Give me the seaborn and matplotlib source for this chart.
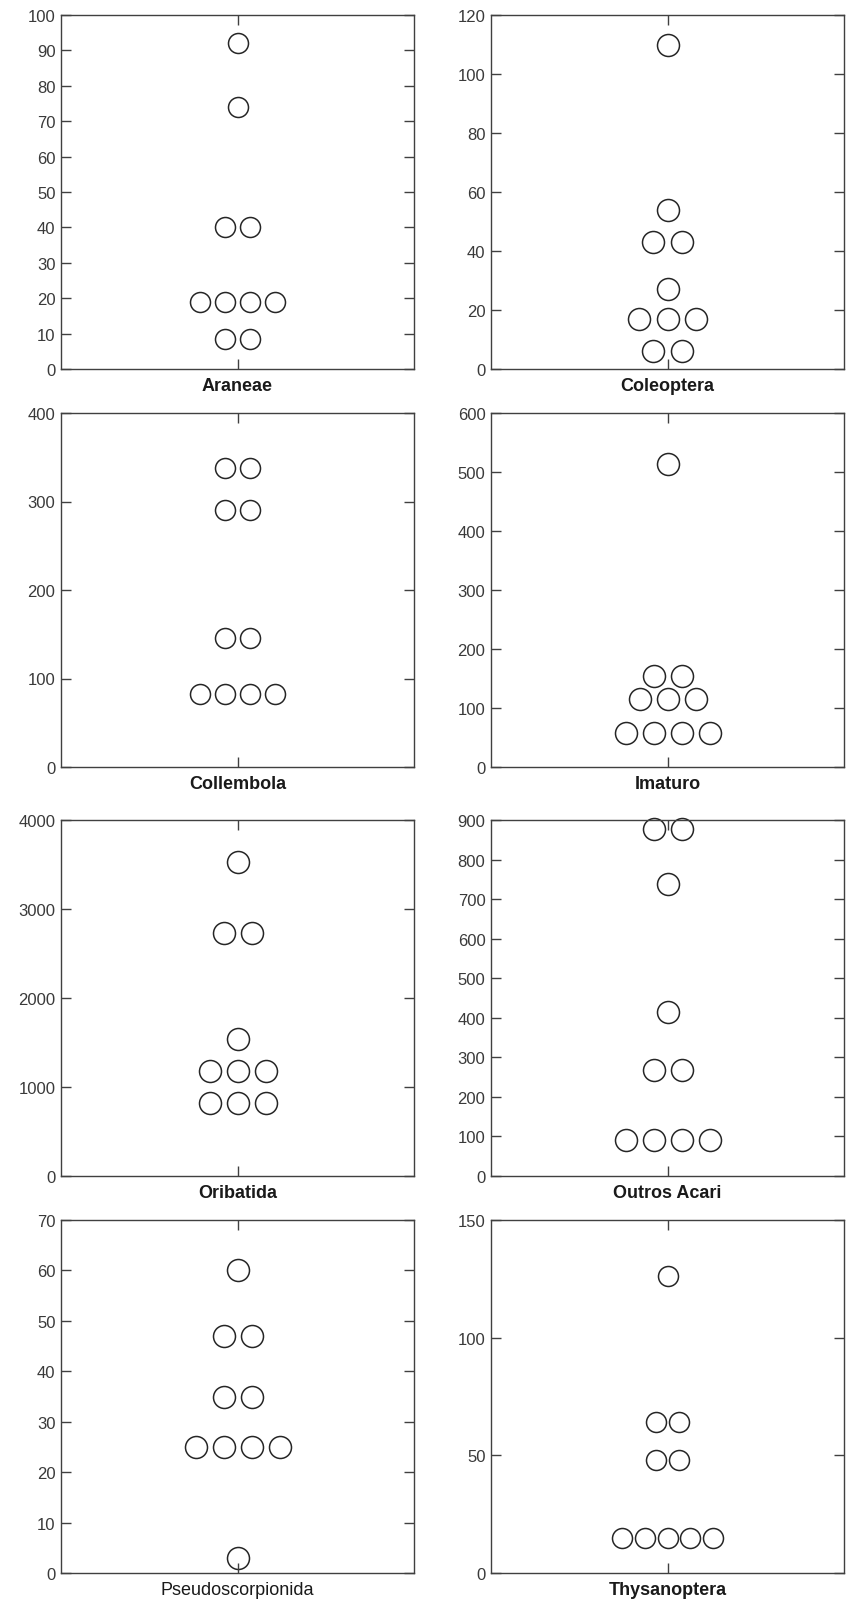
import numpy as np
import pandas as pd
import matplotlib
matplotlib.use("Agg")
import matplotlib.pyplot as plt
import seaborn as sns

sns.set_theme(style="ticks")
plt.rcParams["font.family"] = ["Liberation Sans", "DejaVu Sans"]

# Data (one entry per circle)
taxa = ["Araneae", "Coleoptera", "Collembola", "Imaturo",
        "Oribatida", "Outros Acari", "Pseudoscorpionida", "Thysanoptera"]

araneae = [92, 74, 40, 40, 19, 19, 19, 19, 8.5, 8.5]
coleoptera = [110, 54, 43, 43, 27, 17, 17, 17, 6, 6]
collembola = [338, 338, 290, 290, 146, 146, 82, 82, 82, 82]
imaturo = [514, 154, 154, 116, 116, 116, 57, 57, 57, 57]
oribatida = [3530, 2725, 2725, 1537, 1177, 1177, 1177, 817, 817, 817]
outros_acari = [878, 878, 739, 414, 267, 267, 90, 90, 90, 90]
pseudoscorpionida = [60, 47, 47, 35, 35, 25, 25, 25, 25, 3]
thysanoptera = [126, 64, 64, 48, 48, 15, 15, 15, 15, 15]

values = [araneae, coleoptera, collembola, imaturo,
          oribatida, outros_acari, pseudoscorpionida, thysanoptera]

y_max = [100, 120, 400, 600, 4000, 900, 70, 150]
y_step = [10, 20, 100, 100, 1000, 100, 10, 50]

# circle diameter / horizontal spacing in pixels for each panel
dot_px = [20, 22, 20, 22, 22, 22, 22, 20]
gap_px = [25.2, 28.3, 25.2, 28, 28, 28, 28, 22.7]

W, H = 846, 1606
fig = plt.figure(figsize=(W / 100, H / 100), dpi=100)

col_left = [61, 491]
ax_w = 353
rows = [(16, 370), (414, 768), (821, 1177), (1221, 1574)]

ink = "#262626"
for i, name in enumerate(taxa):
    r, c = divmod(i, 2)
    top, bot = rows[r]
    ax = fig.add_axes([col_left[c] / W, 1 - bot / H, ax_w / W, (bot - top) / H])

    df = pd.DataFrame({"value": values[i]})
    df["rank"] = df.groupby("value").cumcount()
    df["n"] = df.groupby("value")["value"].transform("size")
    unit = gap_px[i] / (ax_w / 2)
    df["x"] = (df["rank"] - (df["n"] - 1) / 2) * unit

    size = (dot_px[i] * 0.72) ** 2
    sns.scatterplot(data=df, x="x", y="value", ax=ax, s=size, color="white",
                    edgecolor=ink, linewidth=1.1, zorder=2, clip_on=False,
                    legend=False)

    ax.set_xlim(-1, 1)
    ax.set_ylim(0, y_max[i])
    ax.set_yticks(np.arange(0, y_max[i] + 1, y_step[i]))
    ax.set_xticks([0])
    ax.set_xticklabels([name])
    ax.set_xlabel("")
    ax.set_ylabel("")
    ax.set_axisbelow(False)

    ax.tick_params(axis="both", direction="in", length=7.5, width=1,
                   color="#404040", top=True, right=True)
    ax.tick_params(axis="y", labelsize=12, labelcolor="#3a3a3a", pad=4)
    weight = "normal" if name == "Pseudoscorpionida" else "bold"
    ax.tick_params(axis="x", labelsize=13, labelcolor="#1a1a1a", pad=6)
    for lab in ax.get_xticklabels():
        lab.set_fontweight(weight)
    for sp in ax.spines.values():
        sp.set_color("#404040")
        sp.set_linewidth(1.0)

fig.savefig("out.png", dpi=100, facecolor="white")
